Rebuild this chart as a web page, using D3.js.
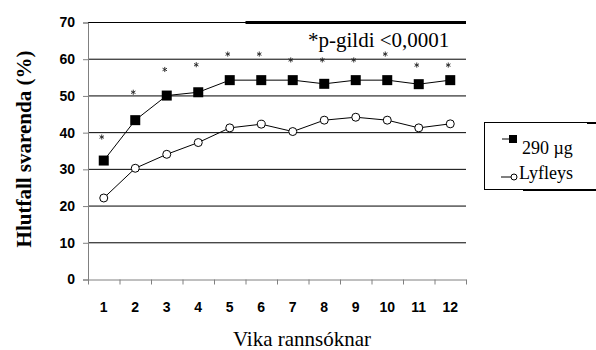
<!DOCTYPE html>
<html>
<head>
<meta charset="utf-8">
<script src="https://cdn.jsdelivr.net/npm/d3@7"></script>
<style>
  body { margin: 0; background: #fff; }
  svg { display: block; }
  .serif { font-family: 'Liberation Serif', 'Times New Roman', 'DejaVu Serif', serif; }
  .sans { font-family: 'Liberation Sans', Arial, sans-serif; font-weight: bold; }
</style>
</head>
<body>
<svg id="chart" width="596" height="350"></svg>
<script>
var weeks = [1, 2, 3, 4, 5, 6, 7, 8, 9, 10, 11, 12];
var dose290 = [32.4, 43.4, 50.1, 51.0, 54.3, 54.3, 54.3, 53.3, 54.3, 54.3, 53.2, 54.3];
var placebo = [22.2, 30.3, 34.1, 37.3, 41.3, 42.3, 40.3, 43.4, 44.2, 43.4, 41.3, 42.4];
var starLevels = [38.8, 51.0, 57.2, 58.5, 61.4, 61.4, 59.8, 59.8, 59.8, 61.4, 58.4, 58.4];
var yTicks = [0, 10, 20, 30, 40, 50, 60, 70];
var seriesNames = ['290 \u00b5g', 'Lyfleys'];

var svg = d3.select('#chart');
var x = d3.scaleLinear().domain([0.5, 12.5]).range([88, 466]);
var y = d3.scaleLinear().domain([0, 70]).range([279.5, 22.5]);

// gridlines
svg.append('g').selectAll('line').data(yTicks.slice(1)).enter().append('line')
  .attr('x1', x(0.5)).attr('x2', x(12.5))
  .attr('y1', function(d) { return y(d); }).attr('y2', function(d) { return y(d); })
  .attr('stroke', '#000').attr('stroke-width', 1);

// axes
var yAxis = svg.append('g').attr('transform', 'translate(' + x(0.5) + ',0)')
  .call(d3.axisLeft(y).tickValues(yTicks).tickSize(5).tickPadding(8).tickFormat(d3.format('d')));
yAxis.attr('font-family', null).attr('font-size', null);
yAxis.select('.domain').attr('stroke', '#808080');
yAxis.selectAll('.tick line').attr('stroke', '#808080');
yAxis.selectAll('.tick text').attr('class', 'sans').attr('font-size', 14).attr('fill', '#000');

var xAxis = svg.append('g').attr('transform', 'translate(0,' + y(0) + ')')
  .call(d3.axisBottom(x).tickValues(d3.range(0.5, 13, 1)).tickSize(5).tickSizeOuter(0).tickFormat(''));
xAxis.select('.domain').attr('stroke', '#808080');
xAxis.selectAll('.tick line').attr('stroke', '#808080');

svg.append('g').selectAll('text').data(weeks).enter().append('text')
  .attr('class', 'sans')
  .attr('x', function(d) { return x(d); }).attr('y', 312)
  .attr('text-anchor', 'middle').attr('font-size', 14)
  .text(function(d) { return d; });

// axis titles
svg.append('text').attr('class', 'serif').attr('transform', 'translate(31,149) rotate(-90)')
  .attr('text-anchor', 'middle').attr('font-weight', 'bold').attr('font-size', 21)
  .text('Hlutfall svarenda (%)');
svg.append('text').attr('class', 'serif').attr('x', 302).attr('y', 346)
  .attr('text-anchor', 'middle').attr('font-size', 21)
  .text('Vika rannsóknar');

// p-value box
svg.append('line').attr('x1', x(5.5)).attr('x2', x(12.5)).attr('y1', y(70)).attr('y2', y(70))
  .attr('stroke', '#000').attr('stroke-width', 3);
svg.append('text').attr('class', 'serif').attr('x', 308).attr('y', 47)
  .attr('font-size', 21)
  .text('*p-gildi <0,0001');

// series lines
var line = d3.line().x(function(d, i) { return x(weeks[i]); }).y(function(d) { return y(d); });
svg.append('path').datum(placebo).attr('d', line).attr('fill', 'none').attr('stroke', '#000').attr('stroke-width', 1);
svg.append('path').datum(dose290).attr('d', line).attr('fill', 'none').attr('stroke', '#000').attr('stroke-width', 1);

svg.append('g').selectAll('circle').data(placebo).enter().append('circle')
  .attr('cx', function(d, i) { return x(weeks[i]); }).attr('cy', function(d) { return y(d); })
  .attr('r', 4).attr('fill', '#fff').attr('stroke', '#000').attr('stroke-width', 1);
svg.append('g').selectAll('rect').data(dose290).enter().append('rect')
  .attr('x', function(d, i) { return x(weeks[i]) - 5; }).attr('y', function(d) { return y(d) - 5; })
  .attr('width', 10).attr('height', 10).attr('fill', '#000');

// significance stars
var star = d3.symbol().type(d3.symbolAsterisk).size(18);
svg.append('g').selectAll('path').data(starLevels).enter().append('path')
  .attr('transform', function(d, i) { return 'translate(' + (x(weeks[i]) - 2) + ',' + y(d) + ')'; })
  .attr('d', star).attr('fill', 'none').attr('stroke', '#222').attr('stroke-width', 0.9);

// legend
var lg = svg.append('g').attr('transform', 'translate(484,122)');
lg.append('rect').attr('x', 0.5).attr('y', 0.5).attr('width', 130).attr('height', 67)
  .attr('fill', '#fff').attr('stroke', '#000').attr('stroke-width', 1);
lg.append('line').attr('x1', 39).attr('x2', 130).attr('y1', 68).attr('y2', 68).attr('stroke', '#000').attr('stroke-width', 2);
lg.append('line').attr('x1', 103).attr('x2', 130).attr('y1', 1).attr('y2', 1).attr('stroke', '#000').attr('stroke-width', 2);
lg.append('line').attr('x1', 18).attr('x2', 29).attr('y1', 17).attr('y2', 17).attr('stroke', '#000');
lg.append('rect').attr('x', 25).attr('y', 13).attr('width', 8).attr('height', 8).attr('fill', '#000');
lg.append('line').attr('x1', 17).attr('x2', 27).attr('y1', 55).attr('y2', 55).attr('stroke', '#000');
lg.append('circle').attr('cx', 30).attr('cy', 55).attr('r', 3).attr('fill', '#fff').attr('stroke', '#000');
lg.selectAll('text.lbl').data(seriesNames).enter().append('text').attr('class', 'serif lbl')
  .attr('x', function(d, i) { return i === 0 ? 38 : 35; })
  .attr('y', function(d, i) { return i === 0 ? 32 : 57; })
  .attr('font-size', 18)
  .text(function(d) { return d; });
</script>
</body>
</html>
